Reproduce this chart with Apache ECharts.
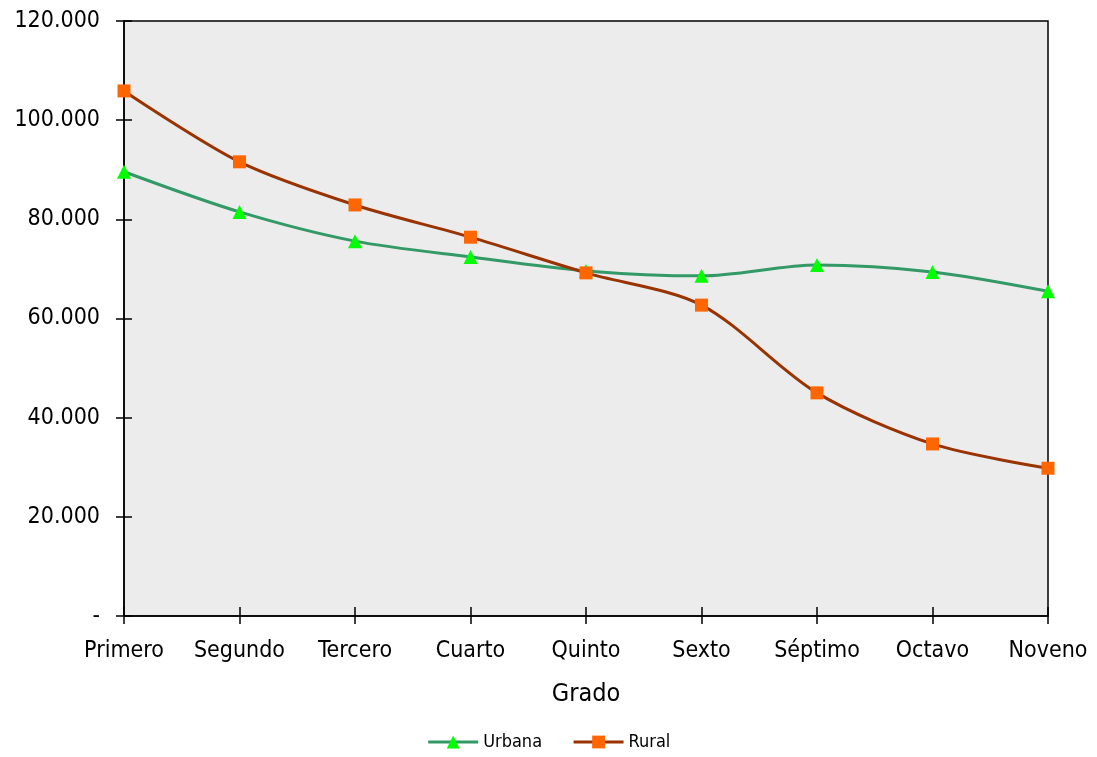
<!DOCTYPE html>
<html><head><meta charset="utf-8">
<script src="https://cdn.jsdelivr.net/npm/echarts@6/dist/echarts.min.js"></script>
<style>html,body{margin:0;padding:0;background:#fff}#c{width:1097px;height:757px}</style>
</head><body><div id="c"></div>
<script>
const categories = ['Primero','Segundo','Tercero','Cuarto','Quinto','Sexto','Séptimo','Octavo','Noveno'];
const urbana = [89600, 81500, 75600, 72400, 69600, 68600, 70800, 69400, 65500];
const rural = [105900, 91600, 82900, 76400, 69200, 62700, 45000, 34700, 29800];
const yTicks = [0, 20000, 40000, 60000, 80000, 100000, 120000];

const FONT = 'DejaVu Sans Condensed';
function fmt(v){ if(v===0) return '-'; return String(v).replace(/\B(?=(\d{3})+(?!\d))/g,'.'); }

const chart = echarts.init(document.getElementById('c'));
chart.setOption({
  animation:false,
  backgroundColor:'#fff',
  textStyle:{fontFamily:FONT},
  grid:{left:124,right:49,top:21,bottom:141,show:true,backgroundColor:'#ececec',borderColor:'#000',borderWidth:1.5},
  legend:{bottom:1,left:'center',itemWidth:50,itemHeight:16,itemGap:30,
    lineStyle:{width:3},
    textStyle:{fontFamily:FONT,fontSize:18,color:'#000'},
    data:['Urbana','Rural']},
  xAxis:[{type:'category',data:categories,boundaryGap:false,
    name:'Grado',nameLocation:'middle',nameGap:66,nameTextStyle:{fontFamily:FONT,fontSize:25,color:'#000'},
    axisLine:{lineStyle:{color:'#000',width:1.5}},
    axisTick:{inside:true,length:9,interval:0,lineStyle:{color:'#000',width:1.5}},
    axisLabel:{fontFamily:FONT,fontSize:23,color:'#000',margin:24,interval:0,hideOverlap:false}},
   {type:'category',data:categories,boundaryGap:false,position:'bottom',
    axisLine:{show:false},axisTick:{length:8,interval:0,lineStyle:{color:'#000',width:1.5}},axisLabel:{show:false}}],
  yAxis:[{type:'value',min:0,max:120000,interval:20000,
    axisLine:{show:true,lineStyle:{color:'#000',width:1.5}},
    axisTick:{show:true,length:8,lineStyle:{color:'#000',width:1.5}},
    splitLine:{show:false},
    axisLabel:{fontFamily:FONT,fontSize:23,color:'#000',margin:24,formatter:v=>fmt(v)}},
   {type:'value',min:0,max:120000,interval:20000,position:'left',
    axisLine:{show:false},axisTick:{show:true,inside:true,length:8,lineStyle:{color:'#000',width:1.5}},
    axisLabel:{show:false},splitLine:{show:false}}],
  series:[
    {name:'Urbana',type:'line',data:urbana,smooth:0.3,symbol:'triangle',symbolSize:14,
      lineStyle:{color:'#339966',width:3},itemStyle:{color:'#00ff00'},z:3},
    {name:'Rural',type:'line',data:rural,smooth:0.3,symbol:'rect',symbolSize:13,
      lineStyle:{color:'#993300',width:3},itemStyle:{color:'#ff6600'},z:4}
  ]
});
</script></body></html>
